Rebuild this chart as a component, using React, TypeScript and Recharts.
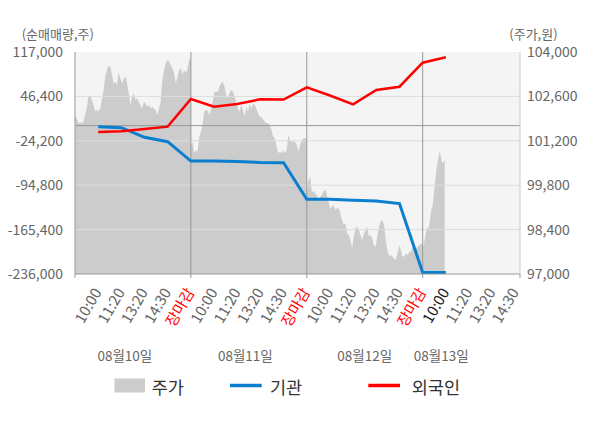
import React from 'react';
import { ComposedChart, Area, Line, XAxis, YAxis, CartesianGrid, ReferenceLine } from 'recharts';

// ---- stock price (주가), intraday, per trading day ----
const day1Price = [
  102010, 101910, 101770, 101770, 101770, 101800, 102010, 102220, 102590, 102640,
  102490, 102330, 102120, 102170, 102120, 102220, 102490, 102800, 103220, 103430,
  103560, 103540, 103280, 103010, 103060, 102960, 103350, 103170, 103010, 103140,
  103240, 103010, 102700, 102330, 102590, 102700, 102490, 102540, 102430, 102330,
  102220, 102430, 102380, 102280, 102330, 102220, 102280, 102220, 102170, 102010,
  102220, 102430, 103120, 103430, 103640, 103750, 103700, 103590, 103490, 103330,
  103010, 103220, 103430, 103490, 103280, 103430, 103330, 103490, 103750, 103800,
];
const day2Price = [
  101020, 101170, 100810, 100910, 100860, 101330, 101490, 101750, 102120, 102170,
  102150, 102010, 102170, 102430, 102750, 102750, 102750, 102910, 103010, 103060,
  102910, 102640, 102540, 102700, 102800, 102750, 102590, 102430, 102220, 102120,
  102330, 102170, 101960, 102280, 102120, 102380, 102220, 102380, 102330, 102220,
  102070, 101960, 101960, 101860, 101800, 101750, 101750, 101700, 101540, 101330,
  101280, 101020, 100810, 100860, 100810, 100910, 100810, 100910, 101380, 101220,
  101170, 101170, 101170, 101070, 100860, 101070, 101220, 101280, 101280, 101280,
];
const day3Price = [
  99600, 99960, 100070, 99600, 99600, 99540, 99490, 99330, 99440, 99490,
  99600, 99670, 99490, 99280, 99070, 99120, 99180, 99020, 99070, 99070,
  98910, 98700, 98550, 98600, 98280, 98230, 98070, 97810, 98180, 98440,
  98490, 98390, 98230, 98070, 98280, 98390, 98490, 98180, 98230, 98120,
  97910, 97860, 98180, 98490, 98650, 98700, 98550, 98070, 97760, 97550,
  97600, 97550, 97490, 97440, 97650, 97910, 97760, 97550, 97550, 97650,
  97600, 97700, 97700, 97860, 97810, 97810, 97860, 97910, 97950, 97950,
];
const day4Price = [
  97810, 97980, 98130, 98390, 98490, 98440, 98700, 99020, 99120, 99440,
  99860, 100180, 100490, 100700, 100860, 100700, 100490, 100540, 100590,
];

// ---- net buying (순매매량) at labelled time slots ----
const flowSlots = [1, 2, 3, 4, 5, 6, 7, 8, 9, 10, 11, 12, 13, 14, 15, 16];
const institution = [-1800, -3400, -18600, -25600, -56500, -56500, -57000, -58600, -59200, -117200, -117300, -118800, -119900, -124100, -233500, -233500];
const foreign = [-10200, -9200, -5400, -1700, 42300, 30000, 34300, 41800, 41300, 60900, 47800, 33800, 56600, 61800, 100000, 108600];

// ---- axis labels ----
const timeLabels = [
  '10:00', '11:20', '13:20', '14:30', '장마감',
  '10:00', '11:20', '13:20', '14:30', '장마감',
  '10:00', '11:20', '13:20', '14:30', '장마감',
  '10:00', '11:20', '13:20', '14:30',
];
const dateLabels = ['08월10일', '08월11일', '08월12일', '08월13일'];
const leftTicks = [117000, 46400, -24200, -94800, -165400, -236000];
const rightTicks = [97000, 98400, 99800, 101200, 102600, 104000];

// ---- derived tables ----
const labelSlots = timeLabels.map((_, i) => i + 1);
const daySlots = [5, 10, 15];
const dayEdge = [0, 5, 10, 15, 19.2];
const datePos = [2.15, 7.35, 12.5, 15.8];
const day4Span = 0.95;

const priceData: { t: number; price: number }[] = [];
[day1Price, day2Price, day3Price].forEach((arr, d) => {
  arr.forEach((p, i) => priceData.push({ t: 5 * d + (i * 5) / (arr.length - 1), price: p }));
});
day4Price.forEach((p, i) => priceData.push({ t: 15 + (i * day4Span) / (day4Price.length - 1), price: p }));

const flowData = flowSlots.map((s, i) => ({ t: s, inst: institution[i], foreign: foreign[i] }));

const allTicks = [...dayEdge, ...labelSlots, ...datePos]
  .filter((v, i, a) => a.indexOf(v) === i)
  .sort((a, b) => a - b);

const FONT = "'Noto Sans CJK KR', 'Noto Sans', sans-serif";
const BLUE = '#0a7fcf';
const RED = '#ff0000';

function XTick(props: any) {
  const { x, y, payload } = props;
  const v = payload.value;
  const parts: React.ReactNode[] = [];
  if (dayEdge.includes(v)) {
    parts.push(<line key="tl" x1={x} x2={x} y1={y} y2={y + 4} stroke="#999" strokeWidth={1} />);
  }
  const li = labelSlots.indexOf(v);
  if (li >= 0) {
    const label = timeLabels[li];
    const color = label === '장마감' ? RED : li === 15 ? '#222' : '#666';
    const ax = x + 4;
    const ay = y + 18;
    parts.push(
      <text key="lb" x={ax} y={ay} textAnchor="end" fontSize={15} fill={color} fontFamily={FONT}
        transform={`rotate(-60 ${ax} ${ay})`}>{label}</text>
    );
  }
  const di = datePos.indexOf(v);
  if (di >= 0) {
    parts.push(
      <text key="dt" x={x} y={y + 81} textAnchor="middle" dominantBaseline="central" fontSize={13.5}
        fill="#666" fontFamily={FONT}>{dateLabels[di]}</text>
    );
  }
  return <g>{parts}</g>;
}

const fmt = (v: number) => v.toLocaleString('en-US');

export default function App() {
  return (
    <div style={{ position: 'relative', width: 592, height: 420, fontFamily: FONT }}>
      <ComposedChart width={592} height={420} margin={{ top: 44, right: 0, left: 0, bottom: 0 }}>
        <CartesianGrid yAxisId="left" horizontal={false} vertical={false} fill="#f4f4f4" />
        <XAxis
          dataKey="t"
          type="number"
          domain={[0, 19.2]}
          ticks={allTicks}
          interval={0}
          height={154}
          tickLine={false}
          tickSize={0}
          tickMargin={0}
          axisLine={{ stroke: '#999' }}
          tick={<XTick />}
          allowDataOverflow
        />
        <YAxis
          yAxisId="left"
          domain={[-236000, 117000]}
          ticks={leftTicks}
          interval={0}
          width={67}
          tickFormatter={fmt}
          tickLine={false}
          tickSize={6}
          tickMargin={6}
          axisLine={{ stroke: '#999' }}
          tick={{ fill: '#666', fontSize: 14, fontFamily: FONT }}
          allowDataOverflow
        />
        <YAxis
          yAxisId="right"
          orientation="right"
          domain={[97000, 104000]}
          ticks={rightTicks}
          interval={0}
          width={80}
          tickFormatter={fmt}
          tickLine={false}
          tickSize={6}
          tickMargin={1}
          axisLine={{ stroke: '#ccc' }}
          tick={{ fill: '#666', fontSize: 14, fontFamily: FONT, textAnchor: 'start' }}
          allowDataOverflow
        />
        <Area
          yAxisId="right"
          data={priceData}
          dataKey="price"
          type="linear"
          stroke="none"
          fill="#cccccc"
          fillOpacity={1}
          isAnimationActive={false}
          dot={false}
          activeDot={false}
        />
        {leftTicks.slice(1, -1).map((v) => (
          <ReferenceLine key={v} yAxisId="left" y={v} stroke="#dddddd" strokeWidth={1} />
        ))}
        <ReferenceLine yAxisId="left" y={0} stroke="#999" strokeWidth={1} />
        {daySlots.map((s) => (
          <ReferenceLine key={s} yAxisId="left" x={s} stroke="#999" strokeWidth={1} />
        ))}
        <Line
          yAxisId="left"
          data={flowData}
          dataKey="inst"
          type="linear"
          stroke={BLUE}
          strokeWidth={3}
          dot={false}
          activeDot={false}
          isAnimationActive={false}
        />
        <Line
          yAxisId="left"
          data={flowData}
          dataKey="foreign"
          type="linear"
          stroke={RED}
          strokeWidth={2.5}
          dot={false}
          activeDot={false}
          isAnimationActive={false}
        />
      </ComposedChart>
      <svg width={592} height={420} style={{ position: 'absolute', left: 0, top: 0, pointerEvents: 'none' }}>
        <text x={13.7} y={25.3} dominantBaseline="central" fontSize={13} fill="#666" fontFamily={FONT}>(순매매량,주)</text>
        <text x={501.3} y={25.3} dominantBaseline="central" fontSize={13} fill="#666" fontFamily={FONT}>(주가,원)</text>
        <rect x={106.5} y={370.5} width={30.5} height={14} fill="#cccccc" />
        <text x={143.7} y={378.5} dominantBaseline="central" fontSize={17.5} fill="#333" fontFamily={FONT}>주가</text>
        <line x1={222} x2={253.7} y1={377.5} y2={377.5} stroke={BLUE} strokeWidth={3.5} />
        <text x={262} y={378.5} dominantBaseline="central" fontSize={17.5} fill="#333" fontFamily={FONT}>기관</text>
        <line x1={360.3} x2={392} y1={377.5} y2={377.5} stroke={RED} strokeWidth={3.5} />
        <text x={403.7} y={378.5} dominantBaseline="central" fontSize={17.5} fill="#333" fontFamily={FONT}>외국인</text>
      </svg>
    </div>
  );
}
